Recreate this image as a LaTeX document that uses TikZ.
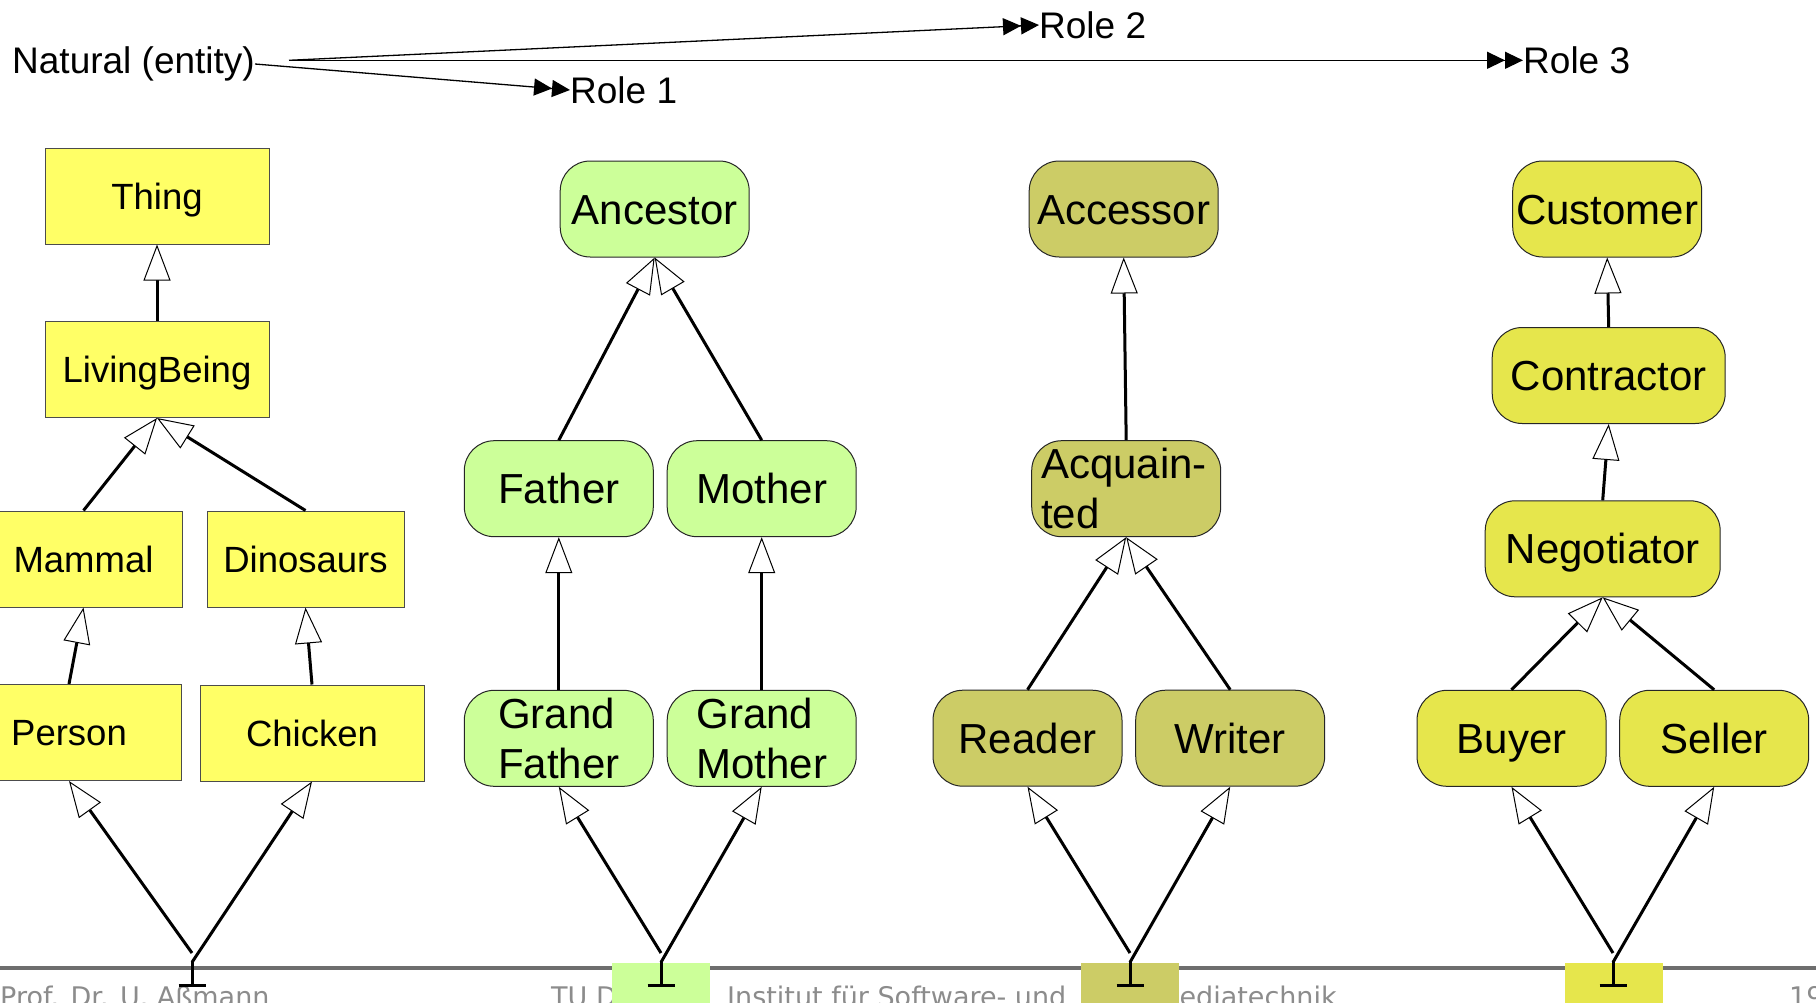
\documentclass[tikz,border=0pt]{standalone}
\usepackage{fontspec}
\setmainfont{Liberation Sans}
\newfontfamily\footfont{DejaVu Sans}
\usetikzlibrary{arrows.meta}
\definecolor{thingyellow}{HTML}{FFFF66}
\definecolor{rolegreen}{HTML}{CCFF99}
\definecolor{roleolive}{HTML}{CCCC66}
\definecolor{roleyellow}{HTML}{E6E64C}
\definecolor{footgray}{HTML}{6E6E6E}
\definecolor{foottext}{HTML}{8C8C8C}

\begin{document}
\begin{tikzpicture}[x=1pt,y=-1pt,
  natbox/.style={draw=black!70, line width=1pt, fill=thingyellow,
    minimum width=224pt, minimum height=96pt, inner sep=2pt,
    font=\fontsize{36.5}{44}\selectfont, text height=26.1pt, text depth=0pt},
  rolebox/.style={draw=black!85, line width=1pt, rounded corners=30pt,
    minimum width=189pt, minimum height=96pt, inner sep=2pt,
    font=\fontsize{42}{50}\selectfont},
  oneline/.style={text height=30.1pt, text depth=0pt},
  inh/.style={line width=3pt,
    -{Triangle[open, fill=white, length=36pt, width=27pt, line width=1pt]}},
  plays/.style={line width=1.3pt,
    -{Triangle[length=18pt,width=17pt]Triangle[length=18pt,width=17pt]}},
  lbl/.style={inner sep=0pt, anchor=west, font=\fontsize{37}{44}\selectfont},
  foot/.style={inner sep=0pt, anchor=base west, text=foottext,
    font=\footfont\fontsize{27}{32}\selectfont},
  tag/.style={inner sep=0pt, anchor=north west, minimum width=98.5pt,
    minimum height=45pt},
  stub/.style={line width=3pt},
  tbar/.style={line width=3.5pt},
]
\useasboundingbox (0,0) rectangle (1816,1002);
\clip (0,0) rectangle (1816,1002);
\fill[white] (0,0) rectangle (1816,1002);

% ---------- footer ----------
\draw[footgray, line width=4pt] (0,968) -- (1816,968);
\node[foot] (f1) at (0,1006.7) {Prof. Dr. U. Aßmann};
\node[foot] (f2) at (551,1006.7) {TU Dresden};
\node[foot] (f3) at (727,1006.7) {Institut für Software- und};
\node[foot] (f4) at (1087,1006.7) {Multimediatechnik};
\node[foot] (f5) at (1789,1006.7) {19};
\node[tag, fill=rolegreen]  (tag2) at (611.7,962.7) {};
\node[tag, fill=roleolive]  (tag3) at (1080.3,962.7) {};
\node[tag, fill=roleyellow] (tag4) at (1564.3,962.7) {};

% ---------- natural type and its roles ----------
\node[lbl] (nat) at (12,64) {Natural (entity)};
\node[lbl] (r1) at (570,90) {Role 1};
\node[lbl] (r2) at (1039,25) {Role 2};
\node[lbl] (r3) at (1523,60.3) {Role 3};
\coordinate (fork) at (289,60.3);
\draw[plays] (nat.east) -- (r1.west);
\draw[plays] (fork) -- (r2.west);
\draw[plays] (fork) -- (r3.west);

% ---------- natural type hierarchy ----------
\node[natbox] (thing)   at (157,196)   {Thing};
\node[natbox] (living)  at (157,369.5) {LivingBeing};
\node[natbox, minimum width=197pt] (mammal) at (83.5,559)  {Mammal};
\node[natbox, minimum width=197pt] (dino)   at (305.5,559) {Dinosaurs};
\node[natbox] (person)  at (69,732.5)  {Person};
\node[natbox] (chicken) at (312,733)   {Chicken};

\draw[inh] (living.north) -- (thing.south);
\draw[inh] (mammal.north) -- (living.south);
\draw[inh] (dino.north) -- (living.south);
\draw[inh] (person.north) -- (mammal.south);
\draw[inh] (chicken.north) -- (dino.south);

% ---------- role hierarchy 1 ----------
\node[rolebox, oneline, fill=rolegreen] (anc)    at (654.7,209)   {Ancestor};
\node[rolebox, oneline, fill=rolegreen] (father) at (558.8,488.7) {Father};
\node[rolebox, oneline, fill=rolegreen] (mother) at (761.7,488.7) {Mother};
\node[rolebox, align=left, fill=rolegreen] (gfather) at (558.8,738.3) {Grand\\Father};
\node[rolebox, align=left, fill=rolegreen] (gmother) at (761.7,738.3) {Grand\\Mother};

\draw[inh] (father.north) -- (anc.south);
\draw[inh] (mother.north) -- (anc.south);
\draw[inh] (gfather.north) -- (father.south);
\draw[inh] (gmother.north) -- (mother.south);

% ---------- role hierarchy 2 ----------
\node[rolebox, oneline, fill=roleolive] (acc) at (1123.7,209) {Accessor};
\node[rolebox, fill=roleolive] (acq) at (1126.2,488.7) {};
\node[inner sep=0pt, anchor=west, align=left, font=\fontsize{42}{50}\selectfont]
  (acqtext) at (1041,488.7) {Acquain-\\ted};
\node[rolebox, oneline, fill=roleolive] (reader) at (1027.5,738.2) {Reader};
\node[rolebox, oneline, fill=roleolive] (writer) at (1230.2,738.2) {Writer};

\draw[inh] (acq.north) -- (acc.south);
\draw[inh] (reader.north) -- (acq.south);
\draw[inh] (writer.north) -- (acq.south);

% ---------- role hierarchy 3 ----------
\node[rolebox, oneline, fill=roleyellow] (cust) at (1607.2,209) {Customer};
\node[rolebox, oneline, fill=roleyellow, minimum width=233pt] (contr) at (1608.7,375.5) {Contractor};
\node[rolebox, oneline, fill=roleyellow, minimum width=235pt] (nego)  at (1602.7,548.8) {Negotiator};
\node[rolebox, oneline, fill=roleyellow] (buyer)  at (1511.5,738.3) {Buyer};
\node[rolebox, oneline, fill=roleyellow] (seller) at (1714.2,738.3) {Seller};

\draw[inh] (contr.north) -- (cust.south);
\draw[inh] (nego.north) -- (contr.south);
\draw[inh] (buyer.north) -- (nego.south);
\draw[inh] (seller.north) -- (nego.south);

% ---------- bottom (empty) types of the lattices ----------
\foreach \i/\x/\l/\r in {1/192/person/chicken, 2/661/gfather/gmother,
                          3/1130/reader/writer, 4/1613/buyer/seller}{
  \coordinate (k\i) at (\x,953);
  \coordinate (j\i) at (\x,962.3);
  \coordinate (t\i) at (\x,985.5);
  \draw[inh] (k\i) -- (\l.south);
  \draw[inh] (j\i) -- (\r.south);
  \draw[stub] (j\i) -- (t\i);
  \draw[tbar] ([xshift=-13.5pt]t\i) -- ([xshift=13.5pt]t\i);
}
\end{tikzpicture}
\end{document}
